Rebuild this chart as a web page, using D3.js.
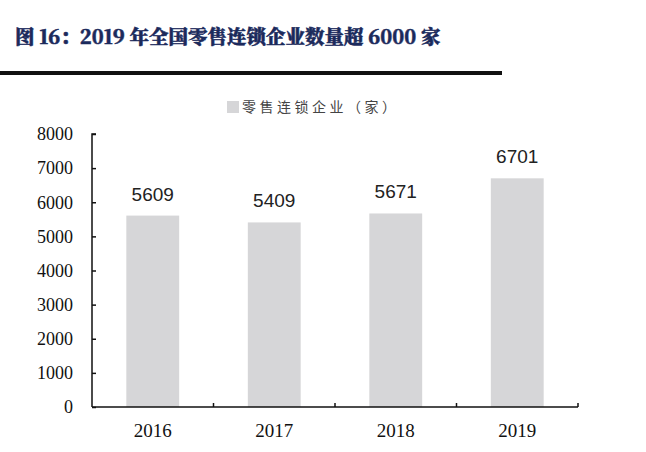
<!DOCTYPE html>
<html><head><meta charset="utf-8">
<script src="https://cdn.jsdelivr.net/npm/d3@7/dist/d3.min.js"></script>
<style>body{margin:0;background:#fff;}svg{display:block;}</style>
</head><body>
<svg id="c" width="646" height="452"></svg>
<script>
const title = "图 16：2019 年全国零售连锁企业数量超 6000 家";
const seriesName = "零售连锁企业（家）";
const categories = ["2016", "2017", "2018", "2019"];
const values = [5609, 5409, 5671, 6701];
const yTicks = [0, 1000, 2000, 3000, 4000, 5000, 6000, 7000, 8000];

const svg = d3.select("#c");
const x0 = 92, x1 = 578, yBottom = 407, yTop = 134;
const serif = "'Liberation Serif','Times New Roman',serif";

svg.append("text").attr("x", 15).attr("y", 44)
  .style("font-family", "'Noto Serif CJK SC','Noto Sans CJK SC','Liberation Serif',serif")
  .attr("font-weight", "900").attr("font-size", 19.5).attr("fill", "#1b2a5c")
  .attr("stroke", "#1b2a5c").attr("stroke-width", 0.5)
  .text(title);
svg.append("rect").attr("x", 0).attr("y", 71).attr("width", 502).attr("height", 4).attr("fill", "#111");

const x = d3.scaleBand().domain(categories).range([x0, x1]).paddingInner(0.565).paddingOuter(0.2825);
const y = d3.scaleLinear().domain([0, 8000]).range([yBottom, yTop]);

svg.selectAll("rect.bar").data(values).join("rect").attr("class", "bar")
  .attr("x", (d, i) => x(categories[i])).attr("width", x.bandwidth())
  .attr("y", d => y(d)).attr("height", d => y(0) - y(d)).attr("fill", "#d6d6d8");

svg.selectAll("text.lbl").data(values).join("text").attr("class", "lbl")
  .attr("x", (d, i) => x(categories[i]) + x.bandwidth() / 2).attr("y", d => y(d) - 15)
  .attr("text-anchor", "middle").style("font-family", "'Liberation Sans',Arial,sans-serif")
  .attr("font-size", 19).attr("fill", "#222").text(d => d);

const yAxis = d3.axisLeft(y).tickValues(yTicks).tickSize(-4).tickPadding(19).tickFormat(d3.format("d"));
const gy = svg.append("g").attr("transform", `translate(${x0},0)`).call(yAxis);
gy.select(".domain").attr("stroke", "#111").attr("stroke-width", 1.5).attr("d", `M4,${yTop}H0V${yBottom}`);
gy.selectAll(".tick line").attr("stroke", "#111").attr("stroke-width", 1.5);
gy.selectAll(".tick text").style("font-family", serif)
  .style("font-size", "18px").attr("fill", "#111");

const band = d3.scaleLinear().domain([0, categories.length]).range([x0, x1]);
const gx = svg.append("g").attr("transform", `translate(0,${yBottom})`);
gx.append("line").attr("x1", x0).attr("x2", x1).attr("y1", 0).attr("y2", 0).attr("stroke", "#111").attr("stroke-width", 1.5);
gx.selectAll("line.tk").data(d3.range(1, categories.length + 1)).join("line").attr("class", "tk")
  .attr("x1", d => band(d)).attr("x2", d => band(d)).attr("y1", 0).attr("y2", -4).attr("stroke", "#111").attr("stroke-width", 1.5);
gx.selectAll("text").data(categories).join("text")
  .attr("x", d => x(d) + x.bandwidth() / 2).attr("y", 30).attr("text-anchor", "middle")
  .style("font-family", serif).attr("font-size", 19).attr("fill", "#111").text(d => d);

const lg = svg.append("g");
lg.append("rect").attr("x", 227).attr("y", 101).attr("width", 12).attr("height", 12).attr("fill", "#d6d6d8");
lg.append("text").attr("x", 242).attr("y", 112).style("font-family", "'Noto Sans CJK SC',sans-serif")
  .attr("font-size", 14).attr("fill", "#444").attr("letter-spacing", 3.5).text(seriesName);
</script>
</body></html>
